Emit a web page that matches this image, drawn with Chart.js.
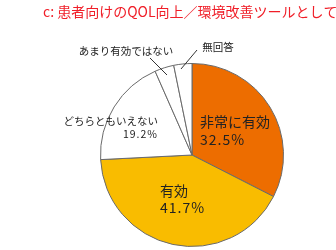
<!DOCTYPE html>
<html>
<head>
<meta charset="utf-8">
<script src="https://cdn.jsdelivr.net/npm/chart.js@4/dist/chart.umd.min.js"></script>
<style>
  html, body { margin: 0; padding: 0; background: #fff; }
  canvas { display: block; }
</style>
</head>
<body>
<canvas id="myChart" width="336" height="250"></canvas>
<script>
// answers and their share (%)
var categories = ["非常に有効", "有効", "どちらともいえない", "あまり有効ではない", "無回答"];
var shares = [32.5, 41.7, 19.2, 3.4, 3.2];
var valueLabels = ["32.5%", "41.7%", "19.2%", "", ""];
var sliceColors = ["#ED6D00", "#F9BC00", "#FFFFFF", "#FFFFFF", "#FFFFFF"];
var title = "c: 患者向けのQOL向上／環境改善ツールとして";

var JP = '"Noto Sans CJK JP", "Noto Sans", sans-serif';

// where each label sits, relative to the pie centre
var labelSpots = [
  { dx: 8, dy: -24, align: "left", size: 14, lh: 18 },
  { dx: -32, dy: 44, align: "left", size: 14, lh: 17 },
  { dx: -34, dy: -27, align: "right", size: 10.5, lh: 13 },
  { dx: -66, dy: -104, align: "center", size: 10.5, lh: 13, line: [-42, -97, -25, -80] },
  { dx: 26, dy: -108, align: "center", size: 10.5, lh: 13, line: [5, -105, -11, -86] }
];

var labelPlugin = {
  id: "labels",
  afterDraw: function (chart) {
    var ctx = chart.ctx;
    var arc = chart.getDatasetMeta(0).data[0];
    var cx = arc.x, cy = arc.y;
    ctx.save();
    // title
    ctx.fillStyle = "#F01E28";
    ctx.font = "14px " + JP;
    ctx.textAlign = "left";
    ctx.textBaseline = "middle";
    ctx.fillText(title, 43, 12);

    ctx.fillStyle = "#222";
    ctx.strokeStyle = "#333";
    ctx.lineWidth = 1;
    labelSpots.forEach(function (s, i) {
      var x = cx + s.dx, y = cy + s.dy;
      ctx.font = s.size + "px " + JP;
      ctx.textAlign = s.align;
      ctx.letterSpacing = "0px";
      var lines = valueLabels[i] ? [categories[i], valueLabels[i]] : [categories[i]];
      var y0 = y - (lines.length - 1) * s.lh / 2;
      ctx.fillText(lines[0], x, y0);
      if (lines[1]) {
        ctx.letterSpacing = "1px";
        ctx.fillText(lines[1], x, y0 + s.lh);
      }
      if (s.line) {
        ctx.beginPath();
        ctx.moveTo(cx + s.line[0], cy + s.line[1]);
        ctx.lineTo(cx + s.line[2], cy + s.line[3]);
        ctx.stroke();
      }
    });
    ctx.restore();
  }
};

new Chart(document.getElementById("myChart"), {
  type: "pie",
  data: {
    labels: categories,
    datasets: [{
      data: shares,
      backgroundColor: sliceColors,
      borderColor: "#6a6a6a",
      borderWidth: 1
    }]
  },
  options: {
    responsive: false,
    animation: false,
    devicePixelRatio: 1,
    layout: { padding: { left: 100, right: 52, top: 63, bottom: 3 } },
    plugins: {
      legend: { display: false },
      tooltip: { enabled: false },
      title: { display: false }
    }
  },
  plugins: [labelPlugin]
});
</script>
</body>
</html>
